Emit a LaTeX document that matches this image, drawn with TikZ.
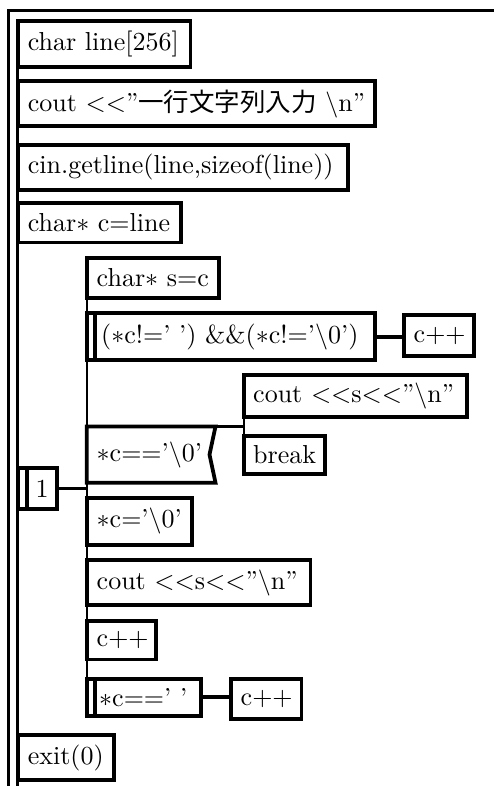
\documentclass[tikz,border=0pt]{standalone}
\usepackage{fontspec}
\newfontfamily\cjk[Scale=0.98]{Noto Sans CJK JP}
\usetikzlibrary{fit,calc}
\begin{document}
\begin{tikzpicture}[x=0.3846pt,y=-0.3846pt,
  bx/.style={draw,line width=1.45pt,inner sep=0pt,outer sep=0pt},
  plain/.style={inner sep=0pt,outer sep=0pt},
  tx/.style={anchor=west,inner sep=0pt},
  frame/.style={line width=1.15pt},
  thinl/.style={line width=0.9pt},
  thickl/.style={line width=1.45pt}]
\useasboundingbox (0,0) rectangle (493,786);
% main sequence
\node[bx,fit={(17.8,21) (190.5,67)}] (b1) {};
\node[tx] (t1) at ($(b1.west)+(9.5,0)$) {char line[256]};
\node[bx,fit={(17.8,81.3) (375.3,126)}] (b2) {};
\node[tx] (t2) at ($(b2.west)+(9.5,0)$) {cout $<<$''{\cjk 一行文字列入力} $\backslash$n''};
\node[bx,fit={(17.8,145) (348,189.7)}] (b3) {};
\node[tx] (t3) at ($(b3.west)+(9.5,0)$) {cin.getline(line,sizeof(line))};
\node[bx,fit={(17.8,203.3) (181.3,242.5)}] (b4) {};
\node[tx] (t4) at ($(b4.west)+(9.5,0)$) {char$\ast$ c$=$line};
% loop box
\node[bx,fit={(17.8,468) (57.3,508.7)}] (one) {};
\draw[thickl] ($(one.north west)+(8.9,0)$) -- ($(one.south west)+(8.9,0)$);
\node[plain] (tone) at ($(one.center)+(4.5,0)$) {1};
% loop body
\node[bx,fit={(86.7,258) (218.7,297.7)}] (sA) {};
\node[tx] (tsA) at ($(sA.west)+(9.5,0)$) {char$\ast$ s$=$c};
\node[bx,fit={(86.7,313.3) (374.7,360)}] (wA) {};
\draw[thickl] ($(wA.north west)+(8.3,0)$) -- ($(wA.south west)+(8.3,0)$);
\node[tx] (twA) at ($(wA.west)+(14,0)$) {($\ast$c!$=$' ') \&\&($\ast$c!$=$'$\backslash$0')};
\node[bx,fit={(403.7,315.3) (473.8,356)}] (cA) {};
\node[tx] (tcA) at ($(cA.west)+(9.5,0)$) {c$++$};
\draw[thickl] (wA.east) -- (wA.east -| cA.west);
% selection
\node[plain,fit={(86.7,426.5) (215.5,482.7)}] (ifb) {};
\draw[thickl] (ifb.north west) -- (ifb.north east) -- ($(ifb.east)+(-6,0)$) -- (ifb.south east) -- (ifb.south west) -- cycle;
\node[tx] (tifb) at ($(ifb.west)+(9.5,0)$) {$\ast$c$==$'$\backslash$0'};
\node[bx,fit={(243.7,374.7) (467,417)}] (co1) {};
\node[tx] (tco1) at ($(co1.west)+(9,0)$) {cout $<<$s$<<$''$\backslash$n''};
\node[bx,fit={(243.7,436) (325.3,473.7)}] (brk) {};
\node[tx] (tbrk) at ($(brk.west)+(9,0)$) {break};
\draw[thinl] (ifb.north east) -- (ifb.north east -| co1.west);
\draw[thinl] (co1.south west) -- (brk.north west);
% rest of body
\node[bx,fit={(86.7,498) (191.7,544.7)}] (d) {};
\node[tx] (td) at ($(d.west)+(9.5,0)$) {$\ast$c$=$'$\backslash$0'};
\node[bx,fit={(86.7,560.3) (310.5,605.3)}] (e) {};
\node[tx] (te) at ($(e.west)+(9.5,0)$) {cout $<<$s$<<$''$\backslash$n''};
\node[bx,fit={(86.7,621.3) (156,659.5)}] (f) {};
\node[tx] (tf) at ($(f.west)+(9.5,0)$) {c$++$};
\node[bx,fit={(86.7,678.7) (201.3,716)}] (g) {};
\draw[thickl] ($(g.north west)+(8.3,0)$) -- ($(g.south west)+(8.3,0)$);
\node[tx] (tg) at ($(g.west)+(12,0)$) {$\ast$c$==$' '};
\node[bx,fit={(230.7,679.3) (301.5,718.7)}] (cB) {};
\node[tx] (tcB) at ($(cB.west)+(9.5,0)$) {c$++$};
\draw[thickl] (g.east) -- (g.east -| cB.west);
% loop connectors
\draw[thinl] (one.east) -- (one.east -| sA.west);
\draw[thinl] (sA.north west) -- (g.south west);
% exit
\node[bx,fit={(17.8,734.7) (113.7,780.3)}] (ex) {};
\node[tx] (tex) at ($(ex.west)+(9.5,0)$) {exit(0)};
% frame
\coordinate (tl) at (8.7,10.7);
\coordinate (tr) at (497,10.7);
\coordinate (bl) at (8.7,790);
\coordinate (bi) at (17.8,790);
\draw[frame] (tr) -- (tl) -- (bl);
\draw[frame] (b1.north west) -- (bi);
\end{tikzpicture}
\end{document}
